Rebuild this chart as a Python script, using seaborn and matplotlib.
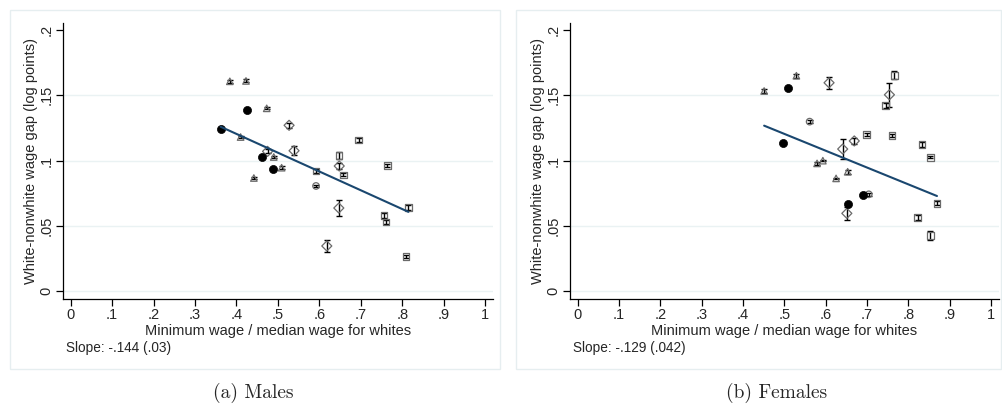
import numpy as np
import pandas as pd
import matplotlib
matplotlib.use("Agg")
import matplotlib.pyplot as plt
from matplotlib.patches import Rectangle
import seaborn as sns

sns.set_theme(style="white")
plt.rcParams['font.family'] = ['Liberation Sans', 'DejaVu Sans']

# ---------------- data: Males ----------------
m_filled_x = [0.362, 0.426, 0.462, 0.488]
m_filled_y = [0.124, 0.139, 0.103, 0.0935]

m_tri_x = [0.384, 0.423, 0.473, 0.410, 0.490, 0.509, 0.442]
m_tri_y = [0.1607, 0.161, 0.140, 0.118, 0.1027, 0.0945, 0.0866]
m_tri_e = [0.0012, 0.0012, 0.0008, 0.0010, 0.0010, 0.0012, 0.0006]

m_dia_x = [0.527, 0.475, 0.539, 0.648, 0.647, 0.618]
m_dia_y = [0.127, 0.107, 0.1075, 0.0958, 0.0636, 0.0345]
m_dia_e = [0.0018, 0.0015, 0.0036, 0.0020, 0.0060, 0.0048]

m_sq_x = [0.592, 0.647, 0.658, 0.695, 0.764, 0.756, 0.761, 0.815, 0.809]
m_sq_y = [0.092, 0.104, 0.089, 0.1157, 0.096, 0.0577, 0.053, 0.064, 0.0263]
m_sq_e = [0.0012, 0.0025, 0.0012, 0.0018, 0.0012, 0.0020, 0.0014, 0.0020, 0.0012]

m_circ_x = [0.592]
m_circ_y = [0.0805]
m_circ_e = [0.0010]

m_slope, m_intercept = -0.144, 0.178
m_slope_text = "Slope: -.144 (.03)"

# ---------------- data: Females ----------------
f_filled_x = [0.508, 0.496, 0.653, 0.690]
f_filled_y = [0.1556, 0.1137, 0.0667, 0.0736]

f_tri_x = [0.451, 0.529, 0.579, 0.593, 0.625, 0.653]
f_tri_y = [0.1533, 0.165, 0.0978, 0.0999, 0.0863, 0.0914]
f_tri_e = [0.0012, 0.0015, 0.0010, 0.0006, 0.0006, 0.0015]

f_dia_x = [0.608, 0.754, 0.669, 0.641, 0.651]
f_dia_y = [0.1596, 0.1504, 0.115, 0.1088, 0.0595]
f_dia_e = [0.0046, 0.0090, 0.0020, 0.0074, 0.0050]

f_sq_x = [0.766, 0.745, 0.699, 0.760, 0.833, 0.853, 0.869, 0.822, 0.853]
f_sq_y = [0.1653, 0.1423, 0.120, 0.1193, 0.1121, 0.1024, 0.0672, 0.0564, 0.0424]
f_sq_e = [0.0030, 0.0020, 0.0010, 0.0010, 0.0018, 0.0008, 0.0016, 0.0018, 0.0036]

f_circ_x = [0.561, 0.704]
f_circ_y = [0.1298, 0.0741]
f_circ_e = [0.0012, 0.0012]

f_slope, f_intercept = -0.129, 0.1849
f_slope_text = "Slope: -.129 (.042)"

x_ticks = [0, .1, .2, .3, .4, .5, .6, .7, .8, .9, 1]
x_ticklabels = ["0", ".1", ".2", ".3", ".4", ".5", ".6", ".7", ".8", ".9", "1"]
y_ticks = [0, .05, .1, .15, .2]
y_ticklabels = ["0", ".05", ".1", ".15", ".2"]

W, H = 1002, 405
fig = plt.figure(figsize=(W / 100, H / 100), dpi=100)
fig.patch.set_facecolor("white")

LINE_C = "#1a476f"
BOX_C = "#e6eef0"
GRID_C = "#eaf2f3"
EDGE_C = "#6a6a6a"


def draw_panel(rect, boxrect, caption, cap_x, filled, tri, dia, sq, circ, slope, intercept, slope_text):
    # outer light box
    fig.patches.append(Rectangle((boxrect[0] / W, 1 - boxrect[3] / H),
                                 (boxrect[2] - boxrect[0]) / W, (boxrect[3] - boxrect[1]) / H,
                                 transform=fig.transFigure, fill=False, edgecolor=BOX_C, lw=1.0))
    ax = fig.add_axes(rect)
    ax.set_facecolor("white")
    ax.set_xlim(-0.0185, 1.019)
    ax.set_ylim(-0.0059, 0.2054)
    for yv in [0, .05, .1, .15]:
        ax.axhline(yv, color=GRID_C, lw=1.0, zorder=0)

    groups = [(tri, "^"), (dia, "D"), (sq, "s"), (circ, "o")]
    for (gx, gy, ge), mk in groups:
        ax.errorbar(gx, gy, yerr=ge, fmt="none", ecolor="black", elinewidth=1.0,
                    capsize=2.5, capthick=1.0, zorder=3)
        df = pd.DataFrame({"x": gx, "y": gy})
        sns.scatterplot(data=df, x="x", y="y", ax=ax, marker=mk, s=22 if mk != "D" else 26,
                        facecolors="none", edgecolor=EDGE_C, linewidth=0.9, zorder=4)
    fx, fy = filled
    sns.scatterplot(data=pd.DataFrame({"x": fx, "y": fy}), x="x", y="y", ax=ax,
                    marker="o", s=34, color="black", edgecolor="black", linewidth=0.5, zorder=5)

    all_x = list(filled[0]) + list(tri[0]) + list(dia[0]) + list(sq[0]) + list(circ[0])
    lx = np.array([min(all_x), max(all_x)])
    line_df = pd.DataFrame({"x": lx, "y": intercept + slope * lx})
    sns.lineplot(data=line_df, x="x", y="y", ax=ax, color=LINE_C, lw=1.5, zorder=6)

    ax.set_xticks(x_ticks)
    ax.set_xticklabels(x_ticklabels, fontsize=10.5)
    ax.set_yticks(y_ticks)
    ax.set_yticklabels(y_ticklabels, fontsize=10.5, rotation=90, va="center")
    ax.tick_params(axis="both", direction="out", length=5, width=0.9, color="black", pad=2,
                   bottom=True, left=True)
    for s in ["top", "right"]:
        ax.spines[s].set_visible(False)
    for s in ["left", "bottom"]:
        ax.spines[s].set_color("black")
        ax.spines[s].set_linewidth(0.9)
    ax.set_xlabel("Minimum wage / median wage for whites", fontsize=10.5, labelpad=1)
    ax.set_ylabel("White-nonwhite wage gap (log points)", fontsize=10.5, labelpad=1)
    ax.text(0.007, -0.18, slope_text, transform=ax.transAxes, fontsize=9.8, ha="left", va="center")
    fig.text(cap_x / W, 1 - 393 / H, caption, ha="center", va="center", fontsize=14,
             family=["cmr10", "DejaVu Serif"])
    return ax


draw_panel([63 / W, (H - 298.7) / H, 430 / W, (298.7 - 23) / H], (10, 10, 500, 369),
           "(a) Males", 253,
           (m_filled_x, m_filled_y), (m_tri_x, m_tri_y, m_tri_e), (m_dia_x, m_dia_y, m_dia_e),
           (m_sq_x, m_sq_y, m_sq_e), (m_circ_x, m_circ_y, m_circ_e),
           m_slope, m_intercept, m_slope_text)

draw_panel([570 / W, (H - 298.7) / H, 429 / W, (298.7 - 23) / H], (516, 10, 1001, 369),
           "(b) Females", 777,
           (f_filled_x, f_filled_y), (f_tri_x, f_tri_y, f_tri_e), (f_dia_x, f_dia_y, f_dia_e),
           (f_sq_x, f_sq_y, f_sq_e), (f_circ_x, f_circ_y, f_circ_e),
           f_slope, f_intercept, f_slope_text)

fig.savefig("out.png", dpi=100, facecolor="white")
